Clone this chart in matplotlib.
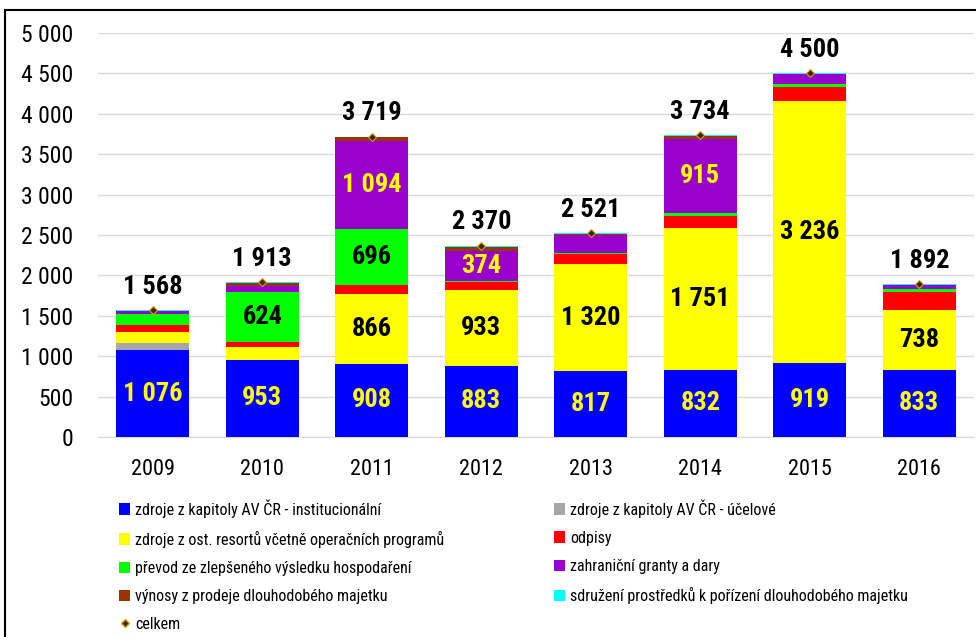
import matplotlib
matplotlib.use('Agg')
import matplotlib.pyplot as plt
from matplotlib.patches import Patch, Rectangle
from matplotlib.lines import Line2D
from matplotlib.ticker import FuncFormatter, MultipleLocator
import numpy as np

plt.rcParams['font.family'] = ['Roboto Condensed', 'Liberation Sans', 'DejaVu Sans']

# Data (odhad z grafu)
roky = ['2009', '2010', '2011', '2012', '2013', '2014', '2015', '2016']
instituc = [1076, 953, 908, 883, 817, 832, 919, 833]
ucelove = [83, 0, 0, 0, 0, 0, 0, 0]
ost_resorty = [140, 161, 866, 933, 1320, 1751, 3236, 738]
odpisy = [87, 62, 105, 99, 124, 150, 175, 223]
prevod = [132, 624, 696, 15, 12, 40, 35, 33]
zahranicni = [46, 74, 1094, 374, 225, 915, 125, 53]
vynosy = [0, 35, 40, 50, 13, 38, 5, 0]
sdruzeni = [4, 4, 10, 16, 10, 8, 5, 12]
celkem = [1568, 1913, 3719, 2370, 2521, 3734, 4500, 1892]

serie = [
    ('zdroje z kapitoly AV ČR - institucionální', instituc, '#0000FF'),
    ('zdroje z kapitoly AV ČR - účelové', ucelove, '#A6A6A6'),
    ('zdroje z ost. resortů včetně operačních programů', ost_resorty, '#FFFF00'),
    ('odpisy', odpisy, '#FF0000'),
    ('převod ze zlepšeného výsledku hospodaření', prevod, '#00FF00'),
    ('zahraniční granty a dary', zahranicni, '#9900CC'),
    ('výnosy z prodeje dlouhodobého majetku', vynosy, '#993300'),
    ('sdružení prostředků k pořízení dlouhodobého majetku', sdruzeni, '#00FFFF'),
]

# ktere segmenty maji popisek a jakou barvou
popisky = {
    0: ([0, 1, 2, 3, 4, 5, 6, 7], '#FFFF00'),
    2: ([2, 3, 4, 5, 6, 7], 'black'),
    4: ([1, 2], 'black'),
    5: ([2, 3, 5], '#FFFF00'),
}

def fmt(v):
    return f"{int(round(v)):,}".replace(',', ' ')

fig = plt.figure(figsize=(9.76, 6.37), dpi=100)
ax = fig.add_axes([98 / 976, 1 - 437 / 637, 876 / 976, 404 / 637])

x = np.arange(len(roky))
bottom = np.zeros(len(roky))
handles = []
for i, (nazev, hodnoty, barva) in enumerate(serie):
    hodnoty = np.array(hodnoty, dtype=float)
    ax.bar(x, hodnoty, 0.667, bottom=bottom, color=barva, zorder=3)
    if i in popisky:
        idx, c = popisky[i]
        for j in idx:
            ax.text(x[j], bottom[j] + hodnoty[j] / 2, fmt(hodnoty[j]), ha='center', va='center',
                    fontsize=19, fontweight='bold', color=c, zorder=5)
    bottom += hodnoty
    handles.append(Patch(facecolor=barva, label=nazev))

ax.plot(x, celkem, linestyle='none', marker='D', markersize=4.5, markerfacecolor='#3a2a00',
        markeredgecolor='#D4A017', markeredgewidth=0.8, zorder=6)
for j, v in enumerate(celkem):
    ax.annotate(fmt(v), (x[j], v), xytext=(0, 8), textcoords='offset points', ha='center', va='bottom',
                fontsize=19, fontweight='bold', color='black')

ax.set_xlim(-0.5, len(roky) - 0.5)
ax.set_ylim(0, 5000)
ax.yaxis.set_major_locator(MultipleLocator(500))
ax.yaxis.set_major_formatter(FuncFormatter(lambda v, p: fmt(v)))
ax.set_xticks(x)
ax.set_xticklabels(roky)
ax.tick_params(axis='y', length=0, pad=18, labelsize=17)
ax.tick_params(axis='x', length=0, pad=16, labelsize=16)
ax.grid(axis='y', color='#D9D9D9', linewidth=1, zorder=0)
for s in ['top', 'right', 'left']:
    ax.spines[s].set_visible(False)
ax.spines['bottom'].set_color('#D9D9D9')

celkem_handle = Line2D([], [], linestyle='none', marker='D', markersize=4, markerfacecolor='#3a2a00',
                       markeredgecolor='#D4A017', label='celkem')

leg_kw = dict(frameon=False, fontsize=11.5, handlelength=0.7, handleheight=0.7,
              handletextpad=0.3, labelspacing=0.82, borderpad=0, borderaxespad=0, loc='upper left')
leg1 = fig.legend(handles=[handles[0], handles[2], handles[4], handles[6], celkem_handle],
                  bbox_to_anchor=(119 / 976, 1 - 499 / 637), **leg_kw)
leg2 = fig.legend(handles=[handles[1], handles[3], handles[5], handles[7]],
                  bbox_to_anchor=(554 / 976, 1 - 499 / 637), **leg_kw)

# ramecek kolem obrazku
fig.add_artist(Rectangle((5 / 976, -0.05), 1.2, 1.05 - 10 / 637, transform=fig.transFigure,
                         fill=False, edgecolor='black', linewidth=1.5))

fig.savefig('out.png', dpi=100)
